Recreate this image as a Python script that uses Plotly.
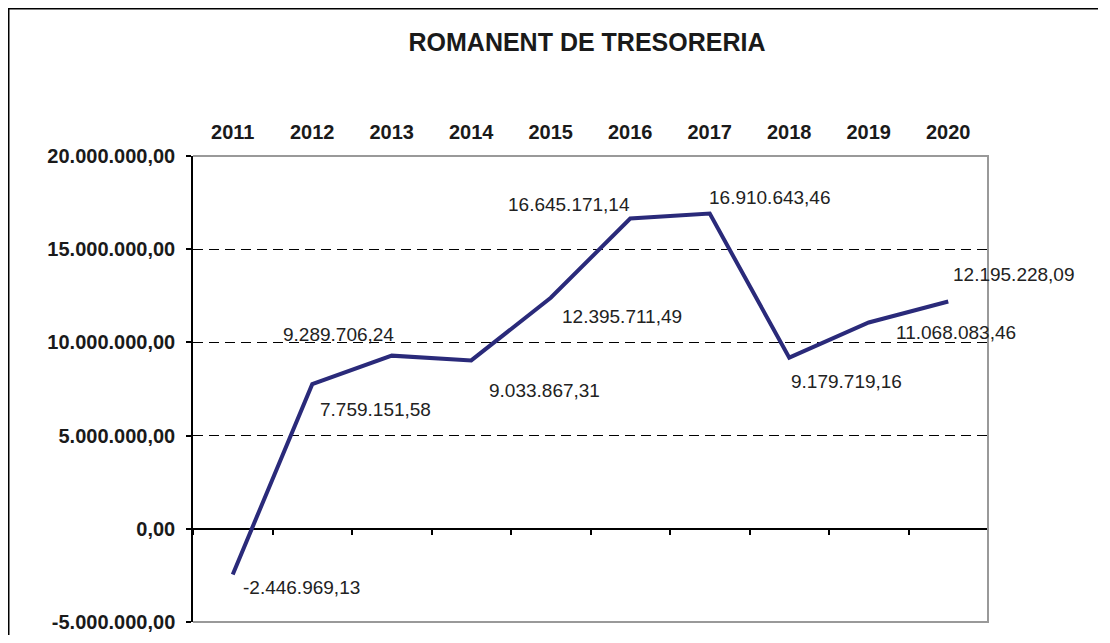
import plotly.graph_objects as go

# ---- data ----
years = ["2011", "2012", "2013", "2014", "2015", "2016", "2017", "2018", "2019", "2020"]
romanent = [-2446969.13, 7759151.58, 9289706.24, 9033867.31, 12395711.49,
            16645171.14, 16910643.46, 9179719.16, 11068083.46, 12195228.09]
y_ticks = [-5000000, 0, 5000000, 10000000, 15000000, 20000000]

# label offsets in pixels (dx, dy) relative to each point
label_offsets = [(69, -13), (63, -25), (-53, 21), (73, -30), (71, -19),
                 (-61, 14), (60, 16), (57, -24), (87, -10), (66, 27)]


def eu(v):
    s = f"{v:,.2f}"
    return s.replace(",", "X").replace(".", ",").replace("X", ".")


FONT = "Arial, Liberation Sans, sans-serif"
NAVY = "#2a2a7a"

fig = go.Figure()
fig.add_trace(go.Scatter(x=years, y=romanent, mode="lines",
                         line=dict(color=NAVY, width=4),
                         hoverinfo="skip", showlegend=False))
# invisible trace to carry the zero-crossing category axis
fig.add_trace(go.Scatter(x=years, y=romanent, mode="lines", xaxis="x2",
                         line=dict(width=0), opacity=0,
                         hoverinfo="skip", showlegend=False))

annotations = []
for i, (v, (dx, dy)) in enumerate(zip(romanent, label_offsets)):
    annotations.append(dict(x=i, y=v, xref="x", yref="y", text=eu(v), showarrow=False,
                            xshift=dx, yshift=dy, xanchor="center", yanchor="middle",
                            font=dict(family=FONT, size=19, color="#222222")))

OFF = 8  # page body margin
L, T = 193 - OFF, 156 - OFF
W, H = 1110 - 2 * OFF, 643 - 2 * OFF
pw, ph = 795, 466
R = W - L - pw
B = H - T - ph

fig.update_layout(
    width=W, height=H,
    margin=dict(l=L, r=R, t=T, b=B, pad=0, autoexpand=False),
    paper_bgcolor="white", plot_bgcolor="white",
    annotations=annotations,
    title=dict(text="<b>ROMANENT DE TRESORERIA</b>", x=(587 - 193) / pw, xref="paper",
               xanchor="center", y=1 - (42.5 - OFF) / H, yref="container", yanchor="middle",
               font=dict(family=FONT, size=25, color="#1a1a1a")),
    xaxis=dict(type="category", side="top", showline=False, ticks="",
               showgrid=False, zeroline=False, range=[-0.5, 9.5], automargin=False,
               tickfont=dict(family=FONT, size=20, color="#1a1a1a", weight="bold"),
               ticklabelstandoff=12),
    xaxis2=dict(type="category", overlaying="x", matches="x", anchor="free",
                position=0.2, side="bottom", showline=True, linecolor="black",
                linewidth=1.5, ticks="outside", ticklen=5, tickwidth=1.5,
                tickcolor="black", tickson="boundaries", showticklabels=False,
                showgrid=False, zeroline=False, layer="below traces", automargin=False),
    yaxis=dict(range=[-5000000, 20000000], tickvals=y_ticks,
               ticktext=[eu(v) for v in y_ticks], automargin=False,
               showline=True, linecolor="black", linewidth=1.5,
               ticks="outside", ticklen=5, tickwidth=1.5, tickcolor="black",
               showgrid=True, gridcolor="black", gridwidth=1.2, griddash="10px,6px",
               zeroline=False,
               tickfont=dict(family=FONT, size=20, color="#1a1a1a", weight="bold"),
               ticklabelstandoff=7),
    showlegend=False,
)

# plot-area border (top, right, bottom) in gray
fig.add_shape(type="path", xref="paper", yref="paper",
              path="M 0 1 L 1 1 L 1 0 L 0 0",
              line=dict(color="#999999", width=2))
# outer chart border: only its left and top edges are in view
bx = (8 - 193 + 0.75) / pw
by = (622 - 8 - 0.75) / ph
bx_end = (W - 4 - L) / pw
fig.add_shape(type="path", xref="paper", yref="paper",
              path=f"M {bx} -0.2 L {bx} {by} L {bx_end} {by}",
              line=dict(color="black", width=1.5))

fig.write_html("out.html")
